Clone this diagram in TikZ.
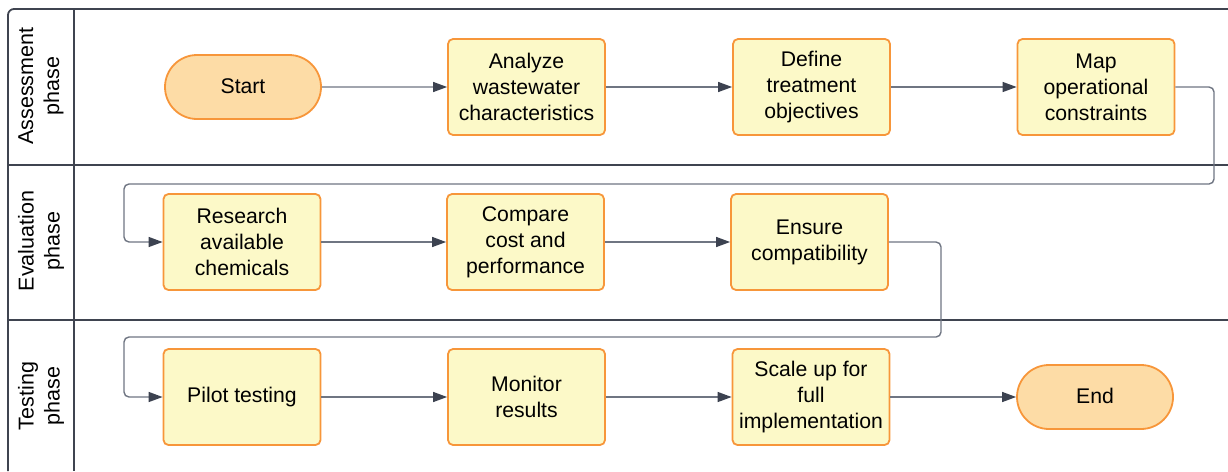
\documentclass[tikz,border=0pt]{standalone}
\usepackage{fontspec}
\setmainfont{Liberation Sans}
\usetikzlibrary{arrows.meta,shapes.misc}
\definecolor{boxfill}{HTML}{FCF9C8}
\definecolor{boxline}{HTML}{F7963A}
\definecolor{termfill}{HTML}{FDDCA6}
\definecolor{laneline}{HTML}{3F4450}
\definecolor{conn}{HTML}{6F7582}
\definecolor{tipc}{HTML}{3C4250}
\tikzset{
  stepbox/.style={draw=boxline, line width=1.8pt, fill=boxfill, rounded corners=5pt,
    minimum width=157pt, minimum height=96pt, inner sep=0pt, align=center,
    font=\fontsize{21.2}{26}\selectfont, text=black},
  termbox/.style={draw=boxline, line width=1.8pt, fill=termfill, rounded rectangle,
    minimum width=156pt, minimum height=64pt, inner sep=0pt, align=center,
    font=\fontsize{21.2}{26}\selectfont, text=black},
  lanelbl/.style={rotate=90, align=center, font=\fontsize{21.5}{26}\selectfont, text=black},
  lane/.style={draw=laneline, line width=1.8pt},
  flow/.style={draw=conn, line width=1.4pt, rounded corners=5pt,
    -{Triangle[length=14pt,width=10pt,fill=tipc,color=tipc]}},
}
\begin{document}
\begin{tikzpicture}[x=1pt,y=-1pt]
\useasboundingbox (0,0) rectangle (1228,471);
% swimlane frame
\draw[lane, rounded corners=6pt] (8,471) -- (8,9) -- (1228,9);
\draw[lane] (74,9) -- (74,471);
\draw[lane] (8,165) -- (1228,165);
\draw[lane] (8,320) -- (1228,320);
% lane labels
\node[lanelbl] (l1) at (41,86) {Assessment\\phase};
\node[lanelbl] (l2) at (41,241) {Evaluation\\phase};
\node[lanelbl] (l3) at (41,396) {Testing\\phase};
% row 1
\node[termbox] (start) at (243,87) {\raisebox{2.5pt}{Start}};
\node[stepbox] (a1) at (526.5,87) {Analyze\\wastewater\\characteristics};
\node[stepbox] (a2) at (811.5,87) {Define\\treatment\\objectives};
\node[stepbox] (a3) at (1096,87) {Map\\operational\\constraints};
% row 2
\node[stepbox] (b1) at (242,242) {Research\\available\\chemicals};
\node[stepbox] (b2) at (525.5,242) {Compare\\cost and\\performance};
\node[stepbox] (b3) at (809.5,242) {Ensure\\compatibility};
% row 3
\node[stepbox] (c1) at (242,397) {\raisebox{1.5pt}{Pilot testing}};
\node[stepbox] (c2) at (526.5,397) {Monitor\\results};
\node[stepbox] (c3) at (811,397) {Scale up for\\full\\implementation};
\node[termbox] (end) at (1095,397) {\raisebox{2.5pt}{End}};
% connectors
\draw[flow] (start) -- (a1);
\draw[flow] (a1) -- (a2);
\draw[flow] (a2) -- (a3);
\draw[flow] (a3.east) -- (1214,87) -- (1214,184) -- (124,184) -- (124,242) -- (b1.west);
\draw[flow] (b1) -- (b2);
\draw[flow] (b2) -- (b3);
\draw[flow] (b3.east) -- (941,242) -- (941,337) -- (124,337) -- (124,397) -- (c1.west);
\draw[flow] (c1) -- (c2);
\draw[flow] (c2) -- (c3);
\draw[flow] (c3) -- (end);
\end{tikzpicture}
\end{document}
